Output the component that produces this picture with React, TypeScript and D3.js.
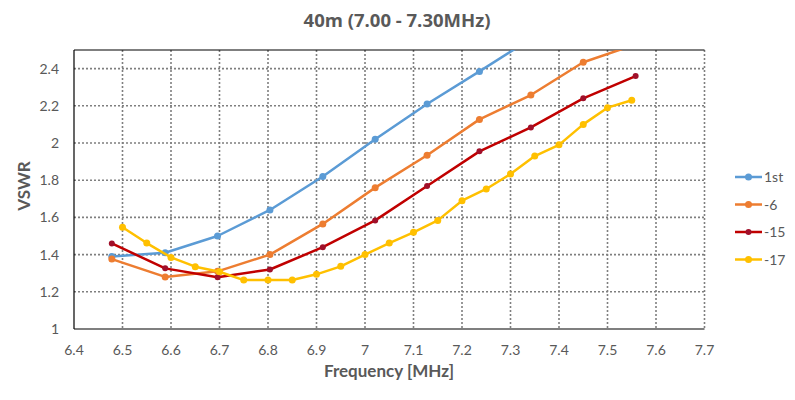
import React from "react";
import * as d3 from "d3";

// Series
const freqMain = [6.478, 6.588, 6.696, 6.804, 6.913, 7.021, 7.128, 7.236, 7.342, 7.45, 7.558];
const vswr1st = [1.39, 1.41, 1.5, 1.64, 1.82, 2.02, 2.21, 2.385, 2.56];
const vswr6 = [1.376, 1.28, 1.31, 1.4, 1.565, 1.76, 1.934, 2.127, 2.258, 2.434, 2.53];
const vswr15 = [1.46, 1.326, 1.278, 1.32, 1.44, 1.584, 1.769, 1.955, 2.084, 2.24, 2.36];

const freq17 = [6.5, 6.55, 6.6, 6.65, 6.7, 6.75, 6.8, 6.85, 6.9, 6.95, 7.0, 7.05, 7.1, 7.15, 7.2, 7.25, 7.3, 7.35, 7.4, 7.45, 7.5, 7.55];
const vswr17 = [1.547, 1.462, 1.385, 1.335, 1.308, 1.263, 1.263, 1.263, 1.294, 1.337, 1.4, 1.462, 1.52, 1.584, 1.69, 1.753, 1.833, 1.93, 1.99, 2.1, 2.19, 2.23];

const xTicks = [6.4, 6.5, 6.6, 6.7, 6.8, 6.9, 7, 7.1, 7.2, 7.3, 7.4, 7.5, 7.6, 7.7];
const yTicks = [1, 1.2, 1.4, 1.6, 1.8, 2, 2.2, 2.4];

const seriesNames = ["1st", "-6", "-15", "-17"];
const colors = ["#5B9BD5", "#ED7D31", "#C00000", "#FFC000"];
const markerColors = ["#5B9BD5", "#ED7D31", "#A0102A", "#FFC000"];

const W = 795, H = 400;
const m = { top: 50, right: 90.5, bottom: 71, left: 74 };

export default function App() {
  const x = d3.scaleLinear().domain([6.4, 7.7]).range([m.left, W - m.right]);
  const y = d3.scaleLinear().domain([1, 2.5]).range([H - m.bottom, m.top]);

  const series = [
    { name: seriesNames[0], pts: vswr1st.map((v, i) => [freqMain[i], v]) },
    { name: seriesNames[1], pts: vswr6.map((v, i) => [freqMain[i], v]) },
    { name: seriesNames[2], pts: vswr15.map((v, i) => [freqMain[i], v]) },
    { name: seriesNames[3], pts: vswr17.map((v, i) => [freq17[i], v]) },
  ];

  const line = d3.line<number[]>().x(d => x(d[0])).y(d => y(d[1]));
  const font = "Lato, 'Open Sans', sans-serif";
  const grey = "#595959";

  return (
    <svg width={W} height={H} style={{ position: "absolute", left: 0, top: 0 }}>
      <rect width={W} height={H} fill="#fff" />
      <defs>
        <clipPath id="plot">
          <rect x={m.left} y={m.top} width={W - m.right - m.left} height={H - m.bottom - m.top} />
        </clipPath>
      </defs>
      <text x={397} y={27} textAnchor="middle" fontFamily="'Open Sans', sans-serif" fontWeight="bold" fontSize={18.5} fill={grey}>
        40m (7.00 - 7.30MHz)
      </text>

      {/* grid */}
      {yTicks.slice(1).map(t => (
        <line key={"gy" + t} x1={m.left} x2={W - m.right} y1={y(t)} y2={y(t)} stroke="#7f7f7f" strokeWidth={1.6} strokeDasharray="2,2" />
      ))}
      {xTicks.slice(1).map(t => (
        <line key={"gx" + t} x1={x(t)} x2={x(t)} y1={m.top} y2={H - m.bottom} stroke="#7f7f7f" strokeWidth={1.6} strokeDasharray="2,2" />
      ))}
      {/* frame */}
      <line x1={m.left} x2={W - m.right} y1={m.top} y2={m.top} stroke="#000" strokeWidth={1.2} />
      <line x1={m.left} x2={W - m.right} y1={H - m.bottom} y2={H - m.bottom} stroke="#000" strokeWidth={1.2} />
      <line x1={m.left} x2={m.left} y1={m.top} y2={H - m.bottom} stroke="#000" strokeWidth={1.2} />

      {/* tick labels */}
      {yTicks.map(t => (
        <text key={"ty" + t} x={m.left - 15} y={y(t) + 5} textAnchor="end" fontFamily={font} fontSize={14} fill={grey}>
          {d3.format("~g")(t)}
        </text>
      ))}
      {xTicks.map(t => (
        <text key={"tx" + t} x={x(t)} y={H - m.bottom + 26} textAnchor="middle" fontFamily={font} fontSize={14} fill={grey}>
          {d3.format("~g")(t)}
        </text>
      ))}
      <text x={389} y={377} textAnchor="middle" fontFamily={font} fontWeight="bold" fontSize={17} fill={grey}>
        Frequency [MHz]
      </text>
      <text transform="translate(30,186) rotate(-90)" textAnchor="middle" fontFamily={font} fontWeight="bold" fontSize={17} fill={grey}>
        VSWR
      </text>

      {/* series */}
      <g clipPath="url(#plot)">
        {series.map((s, i) => (
          <g key={s.name}>
            <path d={line(s.pts) || ""} fill="none" stroke={colors[i]} strokeWidth={2.5} strokeLinejoin="round" />
            {s.pts.map((p, j) => (
              <circle key={j} cx={x(p[0])} cy={y(p[1])} r={i === 2 ? 3 : 3.5} fill={markerColors[i]} />
            ))}
          </g>
        ))}
      </g>

      {/* legend */}
      {seriesNames.map((n, i) => {
        const ly = 177 + i * 27.5;
        return (
          <g key={"lg" + n}>
            <line x1={735} x2={762} y1={ly} y2={ly} stroke={colors[i]} strokeWidth={2.5} />
            <circle cx={748.5} cy={ly} r={i === 2 ? 3 : 3.5} fill={markerColors[i]} />
            <text x={764} y={ly + 5} fontFamily={font} fontSize={14} fill={grey}>{n}</text>
          </g>
        );
      })}
    </svg>
  );
}
